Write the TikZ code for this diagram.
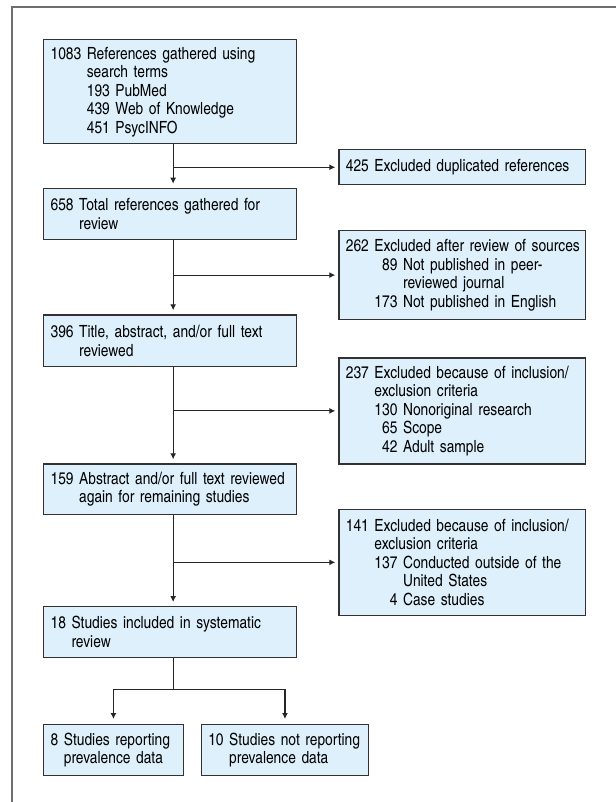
\documentclass[tikz,border=0pt]{standalone}
\usepackage{fontspec}
\setmainfont{texgyreheroscn-regular.otf}
\usetikzlibrary{arrows.meta}

\definecolor{boxfill}{RGB}{221,240,251}
\definecolor{boxline}{RGB}{50,50,50}
\definecolor{framegray}{RGB}{110,110,110}

% first line of a box: number, then text hanging under the text
\newcommand{\hd}[2]{\leftskip=0pt\rightskip=-1em plus 3em\setbox0=\hbox{#1\ }\hangindent=\wd0 \hangafter=1
  \noindent\box0 #2\par}
% sub line: indented under the main text, numbers set flush right
\newcommand{\subitm}[3]{\setbox0=\hbox{#1\ }\setbox2=\hbox{000\ }\leftskip=\wd0
  \hangindent=\wd2 \hangafter=1 \noindent\hbox to \wd2{\hfill#2\ }#3\par}

\tikzset{
  flowbox/.style={draw=boxline, line width=1.2pt, fill=boxfill, anchor=north west,
    inner xsep=7pt, inner ysep=0pt, align=left,
    font=\fontsize{16.8}{18.5}\selectfont},
  arr/.style={draw=black!85, line width=1.1pt, -{Latex[length=6pt,width=6pt]}, shorten >=4pt},
  conn/.style={draw=black!85, line width=1.1pt}
}

\begin{document}
\begin{tikzpicture} [x=1pt,y=-1pt]

\useasboundingbox (0,0) rectangle (615,802);
\draw [framegray, line width=2pt] (11.8,810) -- (11.8,6.7) -- (620,6.7);

\node [flowbox, text width=238.7pt, minimum height=104pt] (refs) at (43,39.3)
  {\hd{1083}{References gathered using\newline search terms}%
   \subitm{1083}{193}{PubMed}\subitm{1083}{439}{Web of Knowledge}\subitm{1083}{451}{PsycINFO}};
\node [flowbox, text width=232.7pt, minimum height=35.3pt] (dup) at (338.3,149)
  {\hd{425}{Excluded duplicated references}};

\node [flowbox, text width=238.7pt, minimum height=51.3pt] (total) at (43,187.7)
  {\hd{658}{Total references gathered for\newline review}};
\node [flowbox, text width=232.7pt, minimum height=89pt] (src) at (338.3,230)
  {\hd{262}{Excluded after review of sources}%
   \subitm{262}{89}{Not published in peer-\newline reviewed journal}%
   \subitm{262}{173}{Not published in English}};

\node [flowbox, text width=238.7pt, minimum height=51.7pt] (title) at (43,314.3)
  {\hd{396}{Title, abstract, and/or full text\newline reviewed}};
\node [flowbox, text width=232.7pt, minimum height=106pt] (crit1) at (338.3,357.3)
  {\hd{237}{Excluded because of inclusion/\newline exclusion criteria}%
   \subitm{237}{130}{Nonoriginal research}\subitm{237}{65}{Scope}\subitm{237}{42}{Adult sample}};

\node [flowbox, text width=238.7pt, minimum height=50.7pt] (again) at (43,463.3)
  {\hd{159}{Abstract and/or full text reviewed\newline again for remaining studies}};
\node [flowbox, text width=232.7pt, minimum height=106.5pt] (crit2) at (338.3,508.5)
  {\hd{141}{Excluded because of inclusion/\newline exclusion criteria}%
   \subitm{141}{137}{Conducted outside of the\newline United States}\subitm{141}{4}{Case studies}};

\node [flowbox, text width=238.7pt, minimum height=50.7pt] (incl) at (43,606)
  {\hd{18}{Studies included in systematic\newline review}};

\node [flowbox, text width=125.7pt, minimum height=50.7pt] (rep) at (43,724)
  {\hd{8}{Studies reporting\newline prevalence data}};
\node [flowbox, text width=153.3pt, minimum height=50.7pt] (norep) at (200.7,724)
  {\hd{10}{Studies not reporting\newline prevalence data}};

\coordinate (s1) at ([xshift=3.2pt]refs.south);
\coordinate (s2) at ([xshift=3.2pt]total.south);
\coordinate (s3) at ([xshift=3.2pt]title.south);
\coordinate (s4) at ([xshift=3.2pt]again.south);
\coordinate (s5) at ([xshift=3.2pt]incl.south);

\draw [arr] (s1) -- (s1 |- total.north);
\draw [arr, shorten >=3pt] (s1 |- dup.west) -- (dup.west);
\draw [arr] (s2) -- (s2 |- title.north);
\draw [arr, shorten >=3pt] (s2 |- src.west) -- (src.west);
\draw [arr] (s3) -- (s3 |- again.north);
\draw [arr, shorten >=3pt] (s3 |- crit1.west) -- (crit1.west);
\draw [arr] (s4) -- (s4 |- incl.north);
\draw [arr, shorten >=3pt] (s4 |- crit2.west) -- (crit2.west);

\draw [conn] (s5) -- ++(0,32) coordinate (fork);
\draw [conn, line cap=rect] (fork -| rep.north) -- (fork -| norep.north);
\draw [arr, shorten >=5pt] (fork -| rep.north) -- (rep.north);
\draw [arr, shorten >=5pt] (fork -| norep.north) -- (norep.north);

\end{tikzpicture}
\end{document}
